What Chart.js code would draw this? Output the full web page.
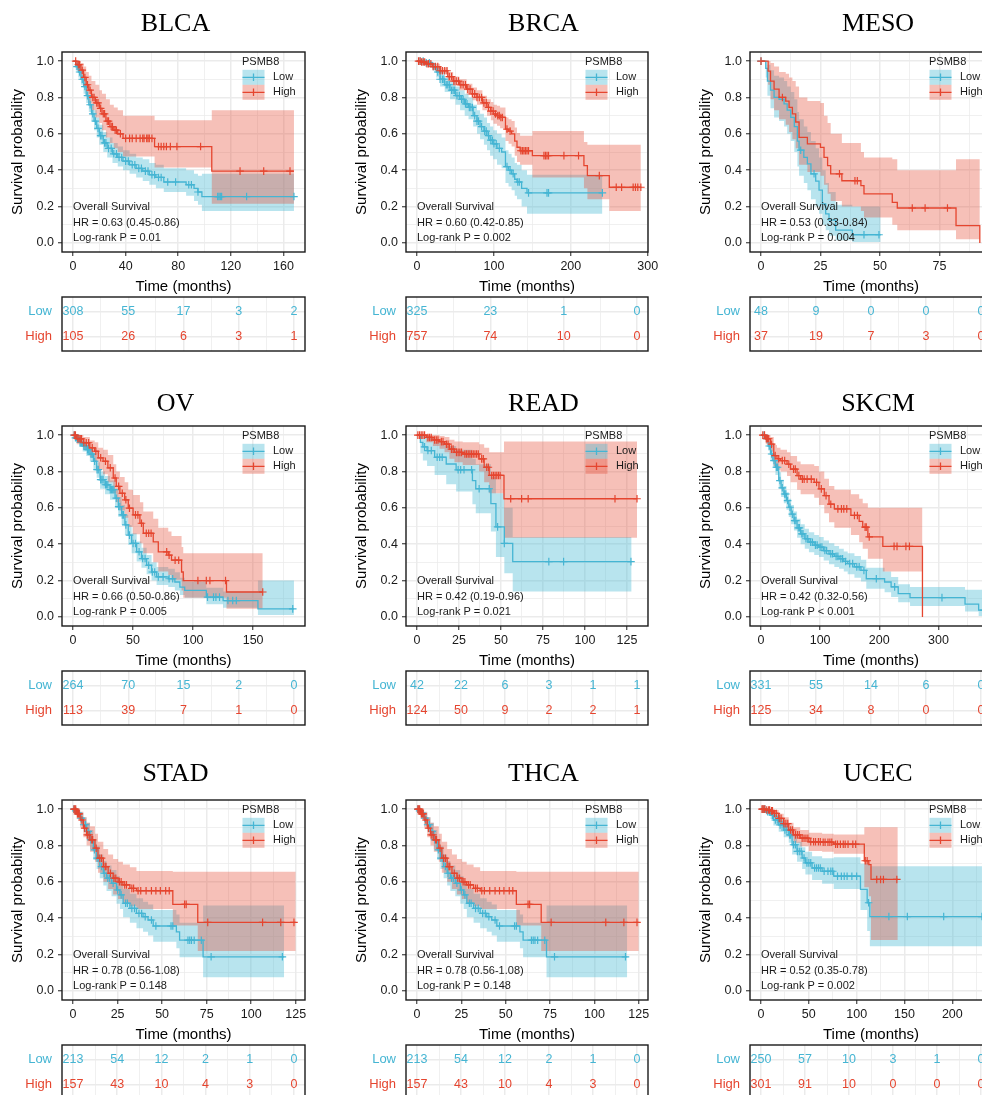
<!DOCTYPE html>
<html>
<head>
<meta charset="utf-8">
<title>PSMB8 overall survival by cancer type</title>
<script src="https://cdn.jsdelivr.net/npm/chart.js@4.4.1/dist/chart.umd.min.js"></script>
<style>
  html, body { margin: 0; padding: 0; background: #ffffff; }
  #figure { position: relative; width: 982px; height: 1095px; overflow: hidden; background: #ffffff; }
  #figure canvas { position: absolute; }
</style>
</head>
<body>
<div id="figure"></div>
<script>
// ---------------------------------------------------------------------------
// Data
// ---------------------------------------------------------------------------
const gene = 'PSMB8';
const groups = ['Low', 'High'];
const cohorts = ['BLCA', 'BRCA', 'MESO', 'OV', 'READ', 'SKCM', 'STAD', 'THCA', 'UCEC'];
const axisTimeMax = [168, 286, 92.5, 184, 131, 372, 124, 124, 230];   // longest follow-up, months
const hrText = ['HR = 0.63 (0.45-0.86)', 'HR = 0.60 (0.42-0.85)', 'HR = 0.53 (0.33-0.84)',
                'HR = 0.66 (0.50-0.86)', 'HR = 0.42 (0.19-0.96)', 'HR = 0.42 (0.32-0.56)',
                'HR = 0.78 (0.56-1.08)', 'HR = 0.78 (0.56-1.08)', 'HR = 0.52 (0.35-0.78)'];
const logrankText = ['Log-rank P = 0.01', 'Log-rank P = 0.002', 'Log-rank P = 0.004',
                     'Log-rank P = 0.005', 'Log-rank P = 0.021', 'Log-rank P < 0.001',
                     'Log-rank P = 0.148', 'Log-rank P = 0.148', 'Log-rank P = 0.002'];
const survTicks = [0, 0.2, 0.4, 0.6, 0.8, 1.0];

// time breaks (months), used by the survival axis and the number-at-risk table
const blcaBreaks = [0, 40, 80, 120, 160];
const brcaBreaks = [0, 100, 200, 300];
const mesoBreaks = [0, 25, 50, 75, 100];
const ovBreaks   = [0, 50, 100, 150, 200];
const readBreaks = [0, 25, 50, 75, 100, 125];
const skcmBreaks = [0, 100, 200, 300, 400];
const stadBreaks = [0, 25, 50, 75, 100, 125];
const ucecBreaks = [0, 50, 100, 150, 200, 250];

// numbers at risk at each break
const blcaRiskLow = [308, 55, 17, 3, 2];      const blcaRiskHigh = [105, 26, 6, 3, 1];
const brcaRiskLow = [325, 23, 1, 0];          const brcaRiskHigh = [757, 74, 10, 0];
const mesoRiskLow = [48, 9, 0, 0, 0];         const mesoRiskHigh = [37, 19, 7, 3, 0];
const ovRiskLow   = [264, 70, 15, 2, 0];      const ovRiskHigh   = [113, 39, 7, 1, 0];
const readRiskLow = [42, 22, 6, 3, 1, 1];     const readRiskHigh = [124, 50, 9, 2, 2, 1];
const skcmRiskLow = [331, 55, 14, 6, 0];      const skcmRiskHigh = [125, 34, 8, 0, 0];
const stadRiskLow = [213, 54, 12, 2, 1, 0];   const stadRiskHigh = [157, 43, 10, 4, 3, 0];
const ucecRiskLow = [250, 57, 10, 3, 1, 0];   const ucecRiskHigh = [301, 91, 10, 0, 0, 0];

// Kaplan-Meier steps: time of each step, survival after it, 95% CI bounds; censoring times
const blcaLowTime  = [0, 2, 4, 6, 8, 10, 12, 14, 16, 18, 20, 23, 26, 30, 34, 38, 43, 48, 53, 58, 63, 69, 86, 92, 95, 98, 168];
const blcaLowSurv  = [1, 0.97, 0.94, 0.90, 0.86, 0.81, 0.76, 0.71, 0.67, 0.63, 0.59, 0.55, 0.52, 0.49, 0.47, 0.45, 0.43, 0.41, 0.395, 0.375, 0.36, 0.335, 0.32, 0.30, 0.28, 0.255, 0.255];
const blcaLowUpper = [1, 0.99, 0.97, 0.94, 0.90, 0.86, 0.81, 0.76, 0.73, 0.69, 0.65, 0.61, 0.58, 0.55, 0.53, 0.51, 0.49, 0.47, 0.46, 0.44, 0.43, 0.41, 0.40, 0.38, 0.37, 0.38, 0.38];
const blcaLowLower = [1, 0.95, 0.91, 0.87, 0.82, 0.77, 0.72, 0.67, 0.62, 0.58, 0.54, 0.50, 0.47, 0.44, 0.42, 0.40, 0.38, 0.36, 0.34, 0.32, 0.30, 0.28, 0.26, 0.23, 0.21, 0.175, 0.175];
const blcaLowCensor = [3, 5, 7, 9, 11, 13, 15, 17, 19, 21, 22, 24, 25, 27, 29, 31, 33, 35, 37, 40, 42, 45, 47, 50, 52, 55, 57, 60, 62, 65, 67, 72, 78, 88, 90, 95, 110, 111, 112, 113, 132, 168];
const blcaHighTime  = [0, 3, 6, 8, 10, 12, 14, 17, 20, 22, 25, 28, 31, 34, 38, 62, 105.5, 168];
const blcaHighSurv  = [1, 0.98, 0.95, 0.91, 0.87, 0.84, 0.80, 0.77, 0.74, 0.71, 0.67, 0.64, 0.62, 0.60, 0.575, 0.53, 0.395, 0.395];
const blcaHighUpper = [1, 1, 0.99, 0.97, 0.94, 0.92, 0.89, 0.87, 0.84, 0.82, 0.79, 0.76, 0.745, 0.73, 0.70, 0.675, 0.73, 0.73];
const blcaHighLower = [1, 0.95, 0.91, 0.86, 0.81, 0.77, 0.73, 0.69, 0.66, 0.62, 0.58, 0.55, 0.52, 0.50, 0.475, 0.415, 0.215, 0.215];
const blcaHighCensor = [2, 4, 5, 7, 9, 11, 13, 15, 16, 18, 19, 21, 23, 24, 26, 27, 29, 30, 32, 33, 36, 40, 43, 45, 48, 51, 53, 54, 56, 57, 58, 60, 65, 67, 69, 71, 74, 79, 97, 127, 145, 165];

const brcaLowTime  = [0, 10, 20, 25, 30, 36, 43, 50, 56, 62, 67, 73, 78, 82, 87, 91, 95, 99, 104, 110, 115, 119, 123, 127, 130, 136, 143, 241];
const brcaLowSurv  = [1, 0.99, 0.97, 0.94, 0.90, 0.87, 0.84, 0.81, 0.79, 0.765, 0.745, 0.70, 0.67, 0.64, 0.615, 0.59, 0.565, 0.545, 0.52, 0.50, 0.42, 0.40, 0.38, 0.35, 0.335, 0.30, 0.275, 0.275];
const brcaLowUpper = [1, 1, 0.99, 0.97, 0.94, 0.91, 0.89, 0.86, 0.84, 0.82, 0.80, 0.76, 0.73, 0.71, 0.69, 0.66, 0.64, 0.62, 0.60, 0.58, 0.51, 0.49, 0.47, 0.44, 0.43, 0.40, 0.375, 0.375];
const brcaLowLower = [1, 0.98, 0.95, 0.91, 0.86, 0.83, 0.79, 0.76, 0.73, 0.70, 0.68, 0.64, 0.60, 0.57, 0.54, 0.51, 0.48, 0.46, 0.43, 0.41, 0.33, 0.31, 0.29, 0.26, 0.24, 0.20, 0.16, 0.16];
const brcaLowCensor = [4, 8, 12, 16, 22, 27, 30, 33, 35, 38, 40, 42, 45, 47, 49, 52, 55, 58, 60, 63, 65, 68, 70, 72, 75, 78, 80, 84, 88, 90, 93, 96, 98, 100, 103, 107, 117, 121, 125, 131, 133, 145, 169, 171, 241];
const brcaHighTime  = [0, 5, 12, 20, 30, 40, 47, 55, 64.5, 72, 78, 85, 91, 96, 99.4, 104, 108, 115, 119, 123, 127, 130, 134, 150, 217, 221.5, 250, 291];
const brcaHighSurv  = [1, 0.995, 0.985, 0.97, 0.947, 0.915, 0.89, 0.87, 0.846, 0.82, 0.80, 0.77, 0.745, 0.725, 0.709, 0.70, 0.69, 0.626, 0.615, 0.60, 0.56, 0.526, 0.507, 0.48, 0.425, 0.37, 0.306, 0.306];
const brcaHighUpper = [1, 1, 0.995, 0.985, 0.965, 0.94, 0.915, 0.90, 0.875, 0.855, 0.84, 0.81, 0.79, 0.775, 0.76, 0.755, 0.745, 0.69, 0.68, 0.67, 0.635, 0.605, 0.59, 0.615, 0.555, 0.54, 0.54, 0.54];
const brcaHighLower = [1, 0.99, 0.975, 0.955, 0.93, 0.89, 0.865, 0.84, 0.815, 0.785, 0.76, 0.73, 0.70, 0.675, 0.655, 0.645, 0.63, 0.56, 0.545, 0.53, 0.48, 0.445, 0.43, 0.36, 0.30, 0.24, 0.175, 0.175];
const brcaHighCensor = [2, 4, 6, 8, 10, 13, 15, 18, 21, 24, 27, 30, 33, 36, 39, 42, 45, 48, 51, 54, 57, 60, 63, 66, 69, 72, 75, 78, 81, 84, 87, 90, 93, 96, 99, 102, 105, 107, 109, 111, 117, 121, 135, 137, 139, 141, 143, 145, 165, 167, 169, 171, 191, 210, 237, 259, 266, 281, 284, 287, 291];

const mesoLowTime  = [0, 2, 2.7, 4, 5.5, 7.6, 9.7, 11, 12.5, 14, 15.3, 16, 18, 19.5, 21, 23, 24.4, 25.8, 27.2, 28.6, 31.4, 38.4, 50.3];
const mesoLowSurv  = [1, 0.96, 0.89, 0.84, 0.80, 0.79, 0.765, 0.73, 0.69, 0.64, 0.56, 0.51, 0.47, 0.435, 0.38, 0.34, 0.29, 0.215, 0.16, 0.125, 0.07, 0.045, 0.045];
const mesoLowUpper = [1, 1, 0.98, 0.95, 0.92, 0.91, 0.89, 0.86, 0.83, 0.79, 0.72, 0.68, 0.64, 0.61, 0.56, 0.52, 0.47, 0.40, 0.33, 0.28, 0.21, 0.20, 0.20];
const mesoLowLower = [1, 0.91, 0.81, 0.74, 0.69, 0.67, 0.64, 0.60, 0.56, 0.50, 0.42, 0.37, 0.33, 0.29, 0.24, 0.20, 0.16, 0.10, 0.07, 0.04, 0.015, 0.005, 0.005];
const mesoLowCensor = [0, 16.7, 22.3, 43.3, 49.6];
const mesoHighTime  = [0, 3, 4, 5.5, 7.6, 10.4, 11.8, 13.2, 14.6, 16, 19.5, 25, 26.5, 28, 29.3, 34, 42, 43.3, 55.2, 57.3, 82, 92];
const mesoHighSurv  = [1, 0.945, 0.89, 0.846, 0.80, 0.78, 0.745, 0.71, 0.665, 0.58, 0.545, 0.525, 0.47, 0.425, 0.38, 0.342, 0.315, 0.27, 0.223, 0.192, 0.095, 0];
const mesoHighUpper = [1, 1, 0.99, 0.97, 0.94, 0.93, 0.91, 0.89, 0.86, 0.80, 0.78, 0.77, 0.70, 0.66, 0.60, 0.55, 0.50, 0.47, 0.46, 0.40, 0.46, 0.46];
const mesoHighLower = [1, 0.87, 0.79, 0.73, 0.68, 0.65, 0.61, 0.57, 0.52, 0.43, 0.39, 0.37, 0.32, 0.27, 0.23, 0.20, 0.175, 0.14, 0.10, 0.07, 0.02, 0.02];
const mesoHighCensor = [0, 9, 33, 39.5, 40.5, 63.6, 69, 78.4];

const ovLowTime  = [0, 2, 5, 8, 11, 14, 17, 19.7, 22.5, 26.6, 30.8, 35, 37.7, 40.5, 43.2, 46, 48.8, 53, 57, 61.3, 65.4, 69.6, 79.3, 84.8, 89, 93, 111, 125, 154, 184];
const ovLowSurv  = [1, 0.985, 0.96, 0.94, 0.92, 0.895, 0.856, 0.81, 0.755, 0.727, 0.70, 0.653, 0.607, 0.561, 0.506, 0.45, 0.404, 0.358, 0.321, 0.284, 0.247, 0.22, 0.21, 0.192, 0.164, 0.146, 0.109, 0.09, 0.044, 0.044];
const ovLowUpper = [1, 1, 0.98, 0.965, 0.95, 0.93, 0.89, 0.85, 0.80, 0.775, 0.75, 0.705, 0.66, 0.615, 0.56, 0.505, 0.46, 0.415, 0.38, 0.34, 0.30, 0.275, 0.265, 0.245, 0.215, 0.195, 0.16, 0.14, 0.20, 0.20];
const ovLowLower = [1, 0.97, 0.935, 0.91, 0.885, 0.855, 0.81, 0.765, 0.705, 0.675, 0.645, 0.60, 0.55, 0.505, 0.45, 0.395, 0.35, 0.305, 0.27, 0.235, 0.20, 0.175, 0.165, 0.145, 0.12, 0.105, 0.07, 0.05, 0.01, 0.01];
const ovLowCensor = [1, 2, 3, 4, 6, 7, 9, 10, 12, 13, 15, 16, 18, 20, 21, 23, 24, 25, 27, 28, 29, 31, 32, 33, 34, 36, 38, 39, 41, 42, 44, 47, 50, 52, 55, 58, 60, 63, 66, 68, 71, 75, 80, 83, 112, 117, 119, 122, 129, 133, 136, 183];
const ovHighTime  = [0, 3, 8.6, 14, 18, 21, 25, 29, 33.5, 36, 39, 43, 46, 50, 55.7, 58.5, 66.8, 71, 79.3, 82, 90.4, 91.8, 127.8, 158];
const ovHighSurv  = [1, 0.98, 0.958, 0.93, 0.911, 0.875, 0.856, 0.82, 0.764, 0.718, 0.68, 0.644, 0.598, 0.561, 0.515, 0.46, 0.413, 0.358, 0.34, 0.312, 0.247, 0.20, 0.137, 0.137];
const ovHighUpper = [1, 1, 0.99, 0.97, 0.96, 0.93, 0.92, 0.89, 0.84, 0.80, 0.77, 0.74, 0.70, 0.67, 0.63, 0.58, 0.54, 0.49, 0.47, 0.445, 0.385, 0.35, 0.35, 0.35];
const ovHighLower = [1, 0.95, 0.92, 0.88, 0.855, 0.81, 0.785, 0.74, 0.68, 0.63, 0.585, 0.545, 0.495, 0.455, 0.405, 0.35, 0.30, 0.25, 0.23, 0.205, 0.145, 0.105, 0.045, 0.045];
const ovHighCensor = [1, 2, 4, 5, 6, 7, 9, 11, 13, 16, 19, 23, 27, 31, 35, 38, 41, 44, 47, 52, 54, 57, 61, 63, 65, 78, 80, 85, 88, 104, 111, 114, 127, 158];

const readLowTime  = [0, 2, 3.5, 6, 10.5, 17.4, 23.3, 33, 35, 44, 47, 52, 57, 127.8];
const readLowSurv  = [1, 0.96, 0.935, 0.915, 0.878, 0.841, 0.809, 0.75, 0.705, 0.623, 0.495, 0.404, 0.304, 0.304];
const readLowUpper = [1, 1, 0.995, 0.985, 0.96, 0.94, 0.92, 0.87, 0.84, 0.77, 0.68, 0.60, 0.44, 0.44];
const readLowLower = [1, 0.90, 0.86, 0.83, 0.78, 0.73, 0.69, 0.62, 0.57, 0.47, 0.33, 0.24, 0.14, 0.14];
const readLowCensor = [4.5, 6.5, 8.5, 12, 13.5, 15, 24.5, 26, 28, 32.5, 37, 43, 48, 52, 78.5, 87.3, 127.4];
const readHighTime  = [0, 5.5, 9.5, 13.4, 16.4, 19.3, 22.3, 27.2, 37, 40, 43, 51.8, 131];
const readHighSurv  = [1, 0.987, 0.973, 0.964, 0.95, 0.923, 0.905, 0.896, 0.869, 0.823, 0.778, 0.65, 0.65];
const readHighUpper = [1, 1, 1, 0.995, 0.99, 0.975, 0.965, 0.96, 0.95, 0.93, 0.905, 0.965, 0.965];
const readHighLower = [1, 0.96, 0.94, 0.925, 0.905, 0.87, 0.85, 0.835, 0.80, 0.74, 0.68, 0.435, 0.435];
const readHighCensor = [0.5, 1.5, 2.5, 3.5, 4.5, 6.5, 7.5, 8.5, 10.5, 11.5, 12.5, 14.5, 15.5, 17.5, 18.5, 20.5, 21.5, 23.5, 24.5, 25.5, 26.5, 28.5, 29.5, 30.5, 31.5, 32.5, 33.5, 34.5, 35.5, 36.5, 38.5, 39.5, 41.5, 42.5, 44.5, 45.5, 46.5, 47.5, 48.5, 49.5, 55.8, 62.3, 66.2, 117.9, 131];

const skcmLowTime  = [0, 8, 12, 16, 20, 24.4, 30, 34, 38.6, 43, 47, 51, 55.7, 61, 67, 74, 81, 90, 98, 106, 115, 124, 132, 140, 146.6, 158, 169, 178, 209, 220, 232, 252, 345, 368, 376];
const skcmLowSurv  = [1, 0.98, 0.94, 0.896, 0.86, 0.823, 0.75, 0.71, 0.676, 0.64, 0.603, 0.565, 0.53, 0.49, 0.457, 0.43, 0.411, 0.395, 0.384, 0.365, 0.347, 0.333, 0.32, 0.305, 0.293, 0.275, 0.256, 0.21, 0.192, 0.165, 0.128, 0.106, 0.07, 0.037, 0.037];
const skcmLowUpper = [1, 0.995, 0.965, 0.93, 0.895, 0.86, 0.795, 0.755, 0.72, 0.685, 0.65, 0.615, 0.58, 0.54, 0.51, 0.485, 0.465, 0.45, 0.44, 0.42, 0.405, 0.39, 0.375, 0.36, 0.35, 0.335, 0.315, 0.27, 0.25, 0.22, 0.18, 0.165, 0.15, 0.15, 0.15];
const skcmLowLower = [1, 0.965, 0.915, 0.86, 0.82, 0.78, 0.705, 0.66, 0.625, 0.59, 0.55, 0.51, 0.475, 0.435, 0.40, 0.375, 0.355, 0.34, 0.33, 0.31, 0.29, 0.275, 0.265, 0.25, 0.235, 0.215, 0.195, 0.155, 0.135, 0.11, 0.08, 0.06, 0.03, 0.005, 0.005];
const skcmLowCensor = [5, 10, 14, 18, 22, 26, 28, 32, 36, 40, 42, 45, 49, 53, 57, 59, 63, 65, 69, 71, 76, 79, 84, 87, 92, 95, 100, 103, 108, 111, 118, 121, 127, 130, 135, 138, 143, 150, 155, 162, 166, 174, 195, 226, 306, 376];
const skcmHighTime  = [0, 8, 16, 21.6, 27, 33, 44, 50, 61, 67, 90, 98, 107, 115, 124, 152, 166, 172, 180.7, 206, 273];
const skcmHighSurv  = [1, 0.98, 0.95, 0.887, 0.87, 0.86, 0.84, 0.813, 0.777, 0.758, 0.74, 0.704, 0.667, 0.62, 0.594, 0.558, 0.525, 0.494, 0.44, 0.388, 0];
const skcmHighUpper = [1, 1, 0.99, 0.945, 0.93, 0.92, 0.905, 0.885, 0.855, 0.84, 0.83, 0.80, 0.76, 0.72, 0.70, 0.675, 0.65, 0.625, 0.60, 0.60, 0.60];
const skcmHighLower = [1, 0.95, 0.91, 0.83, 0.81, 0.80, 0.775, 0.74, 0.70, 0.675, 0.655, 0.615, 0.57, 0.52, 0.49, 0.45, 0.41, 0.375, 0.32, 0.25, 0.25];
const skcmHighCensor = [3, 6, 9, 11, 13, 18, 24, 30, 36, 40, 47, 55, 58, 64, 70, 73, 78, 85, 94, 102, 110, 118, 130, 136, 140, 145, 158, 163, 176, 178, 183, 225, 230, 245, 251];

const stadLowTime  = [0, 1, 2, 4, 5.8, 7.6, 9.5, 11.4, 13.2, 15, 17, 18.8, 21.6, 24.4, 26.3, 28.1, 31.9, 35.6, 39.3, 42.1, 45, 58, 59.8, 73, 118.5];
const stadLowSurv  = [1, 0.99, 0.978, 0.95, 0.914, 0.877, 0.831, 0.776, 0.73, 0.684, 0.647, 0.62, 0.592, 0.555, 0.528, 0.482, 0.454, 0.426, 0.408, 0.39, 0.357, 0.325, 0.279, 0.1875, 0.1875];
const stadLowUpper = [1, 1, 0.995, 0.98, 0.955, 0.925, 0.885, 0.835, 0.795, 0.75, 0.715, 0.69, 0.665, 0.63, 0.605, 0.56, 0.535, 0.51, 0.49, 0.475, 0.445, 0.42, 0.375, 0.47, 0.47];
const stadLowLower = [1, 0.98, 0.96, 0.92, 0.875, 0.83, 0.78, 0.72, 0.67, 0.62, 0.58, 0.55, 0.52, 0.48, 0.45, 0.405, 0.375, 0.345, 0.325, 0.305, 0.27, 0.235, 0.185, 0.075, 0.075];
const stadLowCensor = [0.5, 1.5, 3, 4.5, 6, 7, 8.5, 10, 12, 13.5, 14.5, 16, 17.5, 19.5, 20.5, 22.5, 25, 27, 29.5, 30.5, 33, 34.5, 37, 38.5, 40.5, 44, 46.5, 55, 56, 64.5, 65.5, 66.5, 68, 72, 77.5, 117.5];
const stadHighTime  = [0, 2, 4, 5.8, 7.6, 9.5, 12.3, 14, 17, 19.7, 22.5, 25.3, 28, 31.9, 35.6, 56, 70, 125];
const stadHighSurv  = [1, 0.974, 0.94, 0.895, 0.858, 0.831, 0.785, 0.73, 0.684, 0.647, 0.62, 0.60, 0.583, 0.564, 0.551, 0.476, 0.377, 0.377];
const stadHighUpper = [1, 1, 0.985, 0.955, 0.925, 0.905, 0.865, 0.82, 0.78, 0.75, 0.725, 0.71, 0.695, 0.68, 0.66, 0.655, 0.655, 0.655];
const stadHighLower = [1, 0.945, 0.9, 0.845, 0.80, 0.765, 0.71, 0.65, 0.60, 0.56, 0.53, 0.505, 0.485, 0.465, 0.45, 0.36, 0.22, 0.22];
const stadHighCensor = [0.5, 1, 1.5, 2.5, 3, 3.5, 5, 6.5, 8, 9, 10.5, 11, 13, 15, 16, 18, 18.5, 21, 23, 24, 26, 27, 29, 30, 33, 34, 36.5, 38, 41, 44, 46.5, 49, 52, 54, 62.6, 63.5, 75.6, 106.4, 116.6, 124];

const ucecLowTime  = [0, 5, 10, 13, 18.5, 23.7, 29, 32.5, 37.7, 43, 46.4, 53.4, 63.9, 76, 104, 111, 113.8, 231];
const ucecLowSurv  = [1, 0.985, 0.967, 0.94, 0.913, 0.885, 0.858, 0.804, 0.767, 0.731, 0.704, 0.676, 0.658, 0.631, 0.558, 0.485, 0.409, 0.409];
const ucecLowUpper = [1, 1, 0.99, 0.97, 0.95, 0.925, 0.9, 0.855, 0.82, 0.79, 0.765, 0.74, 0.73, 0.735, 0.70, 0.70, 0.685, 0.685];
const ucecLowLower = [1, 0.97, 0.945, 0.91, 0.875, 0.845, 0.815, 0.75, 0.71, 0.67, 0.64, 0.61, 0.59, 0.56, 0.445, 0.33, 0.245, 0.245];
const ucecLowCensor = [2, 4, 7, 9, 12, 15, 17, 20, 22, 25, 27, 30, 31, 34, 36, 38, 40, 42, 45, 48, 50, 52, 56, 58, 60, 62, 66, 70, 73, 75, 80, 84, 87, 90, 95, 100, 112.5, 133.7, 153, 191, 231];
const ucecHighTime  = [0, 5, 10, 13, 18.5, 23.7, 29, 34, 41, 50, 63.9, 76, 108, 112.7, 115, 143];
const ucecHighSurv  = [1, 0.995, 0.99, 0.976, 0.949, 0.92, 0.885, 0.858, 0.84, 0.82, 0.818, 0.807, 0.716, 0.695, 0.613, 0.613];
const ucecHighUpper = [1, 1, 1, 0.995, 0.975, 0.955, 0.925, 0.9, 0.885, 0.87, 0.865, 0.86, 0.9, 0.9, 0.9, 0.9];
const ucecHighLower = [1, 0.985, 0.975, 0.955, 0.92, 0.885, 0.845, 0.815, 0.795, 0.77, 0.765, 0.755, 0.57, 0.52, 0.28, 0.28];
const ucecHighCensor = [1, 2, 3, 4, 6, 8, 9, 11, 12, 14, 16, 19, 21, 24, 26, 28, 31, 33, 36, 38, 40, 43, 45, 47, 49, 52, 55, 57, 60, 62, 65, 67, 70, 72, 74, 78, 80, 83, 86, 88, 91, 96, 99, 109, 111, 121, 125, 128, 142];

// ---------------------------------------------------------------------------
// Assemble per-cohort records
// ---------------------------------------------------------------------------
function curve(time, surv, upper, lower, censor, risk) {
  return { time, surv, upper, lower, censor, risk };
}
const curves = [
  [curve(blcaLowTime, blcaLowSurv, blcaLowUpper, blcaLowLower, blcaLowCensor, blcaRiskLow),
   curve(blcaHighTime, blcaHighSurv, blcaHighUpper, blcaHighLower, blcaHighCensor, blcaRiskHigh), blcaBreaks],
  [curve(brcaLowTime, brcaLowSurv, brcaLowUpper, brcaLowLower, brcaLowCensor, brcaRiskLow),
   curve(brcaHighTime, brcaHighSurv, brcaHighUpper, brcaHighLower, brcaHighCensor, brcaRiskHigh), brcaBreaks],
  [curve(mesoLowTime, mesoLowSurv, mesoLowUpper, mesoLowLower, mesoLowCensor, mesoRiskLow),
   curve(mesoHighTime, mesoHighSurv, mesoHighUpper, mesoHighLower, mesoHighCensor, mesoRiskHigh), mesoBreaks],
  [curve(ovLowTime, ovLowSurv, ovLowUpper, ovLowLower, ovLowCensor, ovRiskLow),
   curve(ovHighTime, ovHighSurv, ovHighUpper, ovHighLower, ovHighCensor, ovRiskHigh), ovBreaks],
  [curve(readLowTime, readLowSurv, readLowUpper, readLowLower, readLowCensor, readRiskLow),
   curve(readHighTime, readHighSurv, readHighUpper, readHighLower, readHighCensor, readRiskHigh), readBreaks],
  [curve(skcmLowTime, skcmLowSurv, skcmLowUpper, skcmLowLower, skcmLowCensor, skcmRiskLow),
   curve(skcmHighTime, skcmHighSurv, skcmHighUpper, skcmHighLower, skcmHighCensor, skcmRiskHigh), skcmBreaks],
  [curve(stadLowTime, stadLowSurv, stadLowUpper, stadLowLower, stadLowCensor, stadRiskLow),
   curve(stadHighTime, stadHighSurv, stadHighUpper, stadHighLower, stadHighCensor, stadRiskHigh), stadBreaks],
  // THCA reports the same estimates as STAD
  [curve(stadLowTime, stadLowSurv, stadLowUpper, stadLowLower, stadLowCensor, stadRiskLow),
   curve(stadHighTime, stadHighSurv, stadHighUpper, stadHighLower, stadHighCensor, stadRiskHigh), stadBreaks],
  [curve(ucecLowTime, ucecLowSurv, ucecLowUpper, ucecLowLower, ucecLowCensor, ucecRiskLow),
   curve(ucecHighTime, ucecHighSurv, ucecHighUpper, ucecHighLower, ucecHighCensor, ucecRiskHigh), ucecBreaks]
];
const panels = cohorts.map((name, i) => ({
  title: name,
  timeMax: axisTimeMax[i],
  breaks: curves[i][2],
  stats: ['Overall Survival', hrText[i], logrankText[i]],
  Low: curves[i][0],
  High: curves[i][1]
}));

// ---------------------------------------------------------------------------
// Layout and style
// ---------------------------------------------------------------------------
const SANS = "'Liberation Sans', Arial, Helvetica, sans-serif";
const SERIF = "'Liberation Serif', 'Times New Roman', serif";
const LINE_COL = { Low: '#45B5D3', High: '#E5452F' };
const BAND_COL = { Low: 'rgba(77,187,213,0.40)', High: 'rgba(230,75,53,0.35)' };
const GRID_COL = '#EBEBEB';
const INK = '#1a1a1a';
const TICK_FONT = 12.5;

const COL_LEFT = [62, 406, 750];
const COL_WIDTH = [243, 242, 242];
const ROW_TOP = [52, 426, 800];
const TITLE_CX = [175.5, 543.5, 878];
const TITLE_CY = [24.2, 404, 774];
const PLOT_H = 200;
const AXIS_W = 62;
const HEAD = 52;
const FOOT = 44;
const PAD_R = 18;
const TABLE_GAP = 245;
const TABLE_H = 54;
const TABLE_PAD = 20;

Chart.defaults.font.family = SANS;
Chart.defaults.color = INK;

const figure = document.getElementById('figure');

function makeCanvas(left, top, width, height) {
  const c = document.createElement('canvas');
  c.width = width; c.height = height;
  c.style.left = left + 'px'; c.style.top = top + 'px';
  c.style.width = width + 'px'; c.style.height = height + 'px';
  figure.appendChild(c);
  return c;
}
function near(v, list) { return list.some(m => Math.abs(m - v) < 1e-9); }
function halfSteps(majors, lo, hi) {
  const step = majors[1] - majors[0];
  const out = [];
  for (let v = majors[0] - step / 2; v <= hi; v += step) if (v >= lo) out.push(v);
  return out;
}
function survivalAt(time, surv, x) {
  let v = surv[0];
  for (let i = 0; i < time.length && time[i] <= x; i++) v = surv[i];
  return v;
}
function points(time, vals) { return time.map((t, i) => ({ x: t, y: vals[i] })); }

function gridStyle(majors) {
  return {
    color: GRID_COL,
    lineWidth: c => (c.tick && near(c.tick.value, majors)) ? 1.5 : 0.75,
    tickLength: 4,
    tickWidth: 1.1,
    tickColor: c => (c.tick && near(c.tick.value, majors)) ? '#333333' : 'rgba(0,0,0,0)'
  };
}

// frame, title, statistics and legend of one survival panel
function survivalDecor(panel, titleX, titleY) {
  return {
    id: 'survivalDecor',
    afterDraw(chart) {
      const { ctx, chartArea: a, scales } = chart;
      ctx.save();
      ctx.strokeStyle = INK; ctx.lineWidth = 1.4;
      ctx.strokeRect(a.left, a.top, a.right - a.left, a.bottom - a.top);

      ctx.fillStyle = '#000'; ctx.font = '26px ' + SERIF;
      ctx.textAlign = 'center'; ctx.textBaseline = 'middle';
      ctx.fillText(panel.title, titleX, titleY);

      ctx.fillStyle = INK; ctx.font = '11px ' + SANS; ctx.textAlign = 'left';
      const x0 = scales.x.getPixelForValue(0);
      panel.stats.forEach((line, i) => ctx.fillText(line, x0, a.bottom - 44.6 + i * 15.4));

      // legend
      const R = a.right, T = a.top;
      ctx.fillText(gene, R - 63, T + 9.5);
      groups.forEach((g, i) => {
        const cy = T + 25.3 + 15 * i;
        const kx = R - 62.5, kw = 22;
        ctx.fillStyle = BAND_COL[g];
        ctx.fillRect(kx, cy - 7.5, kw, 15);
        ctx.strokeStyle = LINE_COL[g]; ctx.lineWidth = 1.3;
        ctx.beginPath();
        ctx.moveTo(kx, cy); ctx.lineTo(kx + kw, cy);
        ctx.moveTo(kx + kw / 2, cy - 3.8); ctx.lineTo(kx + kw / 2, cy + 3.8);
        ctx.stroke();
        ctx.fillStyle = INK;
        ctx.fillText(g, R - 32, cy);
      });
      ctx.restore();
    }
  };
}

function buildSurvivalChart(panel, col, row) {
  const W = COL_WIDTH[col];
  const left = COL_LEFT[col] - AXIS_W, top = ROW_TOP[row] - HEAD;
  const canvas = makeCanvas(left, top, AXIS_W + W + PAD_R, HEAD + PLOT_H + FOOT);
  const xMin = -0.05 * panel.timeMax, xMax = 1.05 * panel.timeMax;
  const xMajors = panel.breaks.filter(b => b >= xMin && b <= xMax);
  const xTicks = xMajors.concat(halfSteps(panel.breaks, xMin, xMax)).sort((a, b) => a - b);
  const yTicks = survTicks.concat(halfSteps(survTicks, 0, 1)).sort((a, b) => a - b);

  const datasets = [];
  ['High', 'Low'].forEach(g => {
    const d = panel[g];
    datasets.push({
      label: g + ' censored',
      data: d.censor.map(c => ({ x: c, y: survivalAt(d.time, d.surv, c) })),
      showLine: false, pointStyle: 'cross', pointRadius: 3.8,
      pointBorderColor: LINE_COL[g], pointBorderWidth: 1.2, borderColor: LINE_COL[g]
    });
    datasets.push({
      label: g, data: points(d.time, d.surv), stepped: true,
      borderColor: LINE_COL[g], borderWidth: 1.3, pointRadius: 0, fill: false
    });
  });
  ['High', 'Low'].forEach(g => {
    const d = panel[g];
    datasets.push({
      label: g + ' upper', data: points(d.time, d.upper), stepped: true,
      borderColor: 'rgba(0,0,0,0)', borderWidth: 0, pointRadius: 0,
      fill: '+1', backgroundColor: BAND_COL[g]
    });
    datasets.push({
      label: g + ' lower', data: points(d.time, d.lower), stepped: true,
      borderColor: 'rgba(0,0,0,0)', borderWidth: 0, pointRadius: 0, fill: false
    });
  });

  return new Chart(canvas, {
    type: 'line',
    data: { datasets },
    options: {
      responsive: false, animation: false, devicePixelRatio: 1, events: [],
      layout: { padding: { left: 0, top: HEAD, right: PAD_R, bottom: 0 } },
      plugins: { legend: { display: false }, tooltip: { enabled: false }, title: { display: false } },
      scales: {
        x: {
          type: 'linear', min: xMin, max: xMax,
          afterBuildTicks: s => { s.ticks = xTicks.map(v => ({ value: v })); },
          afterFit: s => { s.height = FOOT; },
          ticks: {
            autoSkip: false, maxRotation: 0, minRotation: 0, padding: 3, color: INK,
            font: { size: TICK_FONT, family: SANS },
            callback: v => near(v, xMajors) ? String(v) : ''
          },
          grid: gridStyle(xMajors),
          border: { display: false },
          title: { display: true, text: 'Time (months)', color: '#000',
                   font: { size: 15, family: SANS }, padding: { top: 0, bottom: 0 } }
        },
        y: {
          type: 'linear', min: -0.05, max: 1.05,
          afterBuildTicks: s => { s.ticks = yTicks.map(v => ({ value: v })); },
          afterFit: s => { s.width = AXIS_W; },
          ticks: {
            autoSkip: false, padding: 4, color: INK, font: { size: TICK_FONT, family: SANS },
            callback: v => near(v, survTicks) ? v.toFixed(1) : ''
          },
          grid: gridStyle(survTicks),
          border: { display: false },
          title: { display: true, text: 'Survival probability', color: '#000',
                   font: { size: 15, family: SANS }, padding: { top: 9, bottom: 0 } }
        }
      }
    },
    plugins: [survivalDecor(panel, TITLE_CX[col] - left, TITLE_CY[row] - top)]
  });
}

// number-at-risk table underneath each survival panel
const riskDecor = {
  id: 'riskDecor',
  afterDatasetsDraw(chart) {
    const { ctx, chartArea: a } = chart;
    ctx.save();
    ctx.font = '12.5px ' + SANS; ctx.textAlign = 'center'; ctx.textBaseline = 'middle';
    chart.data.datasets.forEach((ds, di) => {
      const meta = chart.getDatasetMeta(di);
      ctx.fillStyle = ds.borderColor;
      meta.data.forEach((el, i) => ctx.fillText(String(ds.data[i].n), el.x, el.y));
    });
    ctx.strokeStyle = INK; ctx.lineWidth = 1.4;
    ctx.strokeRect(a.left, a.top, a.right - a.left, a.bottom - a.top);
    ctx.restore();
  }
};

function buildRiskTable(panel, col, row) {
  const W = COL_WIDTH[col];
  const left = COL_LEFT[col] - AXIS_W, top = ROW_TOP[row] + TABLE_GAP - TABLE_PAD;
  const canvas = makeCanvas(left, top, AXIS_W + W + PAD_R, TABLE_H + 2 * TABLE_PAD);
  const last = panel.breaks[panel.breaks.length - 1];
  const xMin = -0.05 * last, xMax = 1.05 * last;
  const xTicks = panel.breaks.concat(halfSteps(panel.breaks, xMin, xMax)).sort((a, b) => a - b);
  const rowOf = { Low: 2, High: 1 };

  const datasets = groups.map(g => ({
    label: g,
    data: panel.breaks.map((b, i) => ({ x: b, y: rowOf[g], n: panel[g].risk[i] })),
    showLine: false, pointRadius: 0, borderColor: LINE_COL[g]
  }));

  return new Chart(canvas, {
    type: 'line',
    data: { datasets },
    options: {
      responsive: false, animation: false, devicePixelRatio: 1, events: [],
      layout: { padding: { left: 0, top: TABLE_PAD, right: PAD_R, bottom: TABLE_PAD } },
      plugins: { legend: { display: false }, tooltip: { enabled: false } },
      scales: {
        x: {
          type: 'linear', min: xMin, max: xMax,
          afterBuildTicks: s => { s.ticks = xTicks.map(v => ({ value: v })); },
          afterFit: s => { s.height = 0; },
          ticks: { display: false },
          grid: {
            color: GRID_COL, drawTicks: false,
            lineWidth: c => (c.tick && near(c.tick.value, panel.breaks)) ? 1.5 : 0.75
          },
          border: { display: false }
        },
        y: {
          type: 'linear', min: 0.4, max: 2.6,
          afterBuildTicks: s => { s.ticks = [{ value: 1 }, { value: 2 }]; },
          afterFit: s => { s.width = AXIS_W; },
          ticks: {
            autoSkip: false, padding: 10, font: { size: 13, family: SANS },
            callback: v => v === 2 ? groups[0] : groups[1],
            color: c => (c.tick && c.tick.value === 2) ? LINE_COL.Low : LINE_COL.High
          },
          grid: { color: GRID_COL, drawTicks: false, lineWidth: 1.5 },
          border: { display: false }
        }
      }
    },
    plugins: [riskDecor]
  });
}

panels.forEach((panel, i) => {
  const col = i % 3, row = Math.floor(i / 3);
  buildSurvivalChart(panel, col, row);
  buildRiskTable(panel, col, row);
});
</script>
</body>
</html>
